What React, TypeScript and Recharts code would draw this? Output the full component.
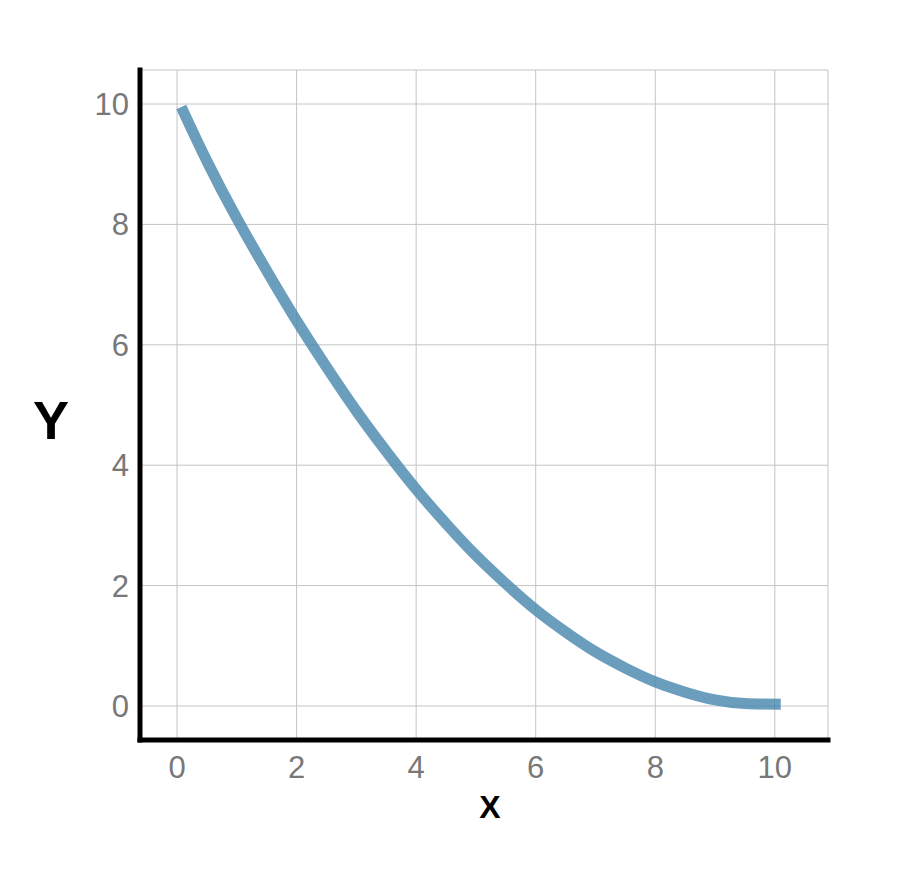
import { LineChart, Line, XAxis, YAxis, CartesianGrid, Label } from "recharts";

// curve
const xValues = [0.07, 0.5, 1, 1.5, 2, 2.5, 3, 3.5, 4, 4.5, 5, 5.5, 6, 6.5, 7, 7.5, 8, 8.5, 9, 9.5, 10.1];
const yValues = [9.95, 9.05, 8.1, 7.23, 6.4, 5.63, 4.9, 4.23, 3.6, 3.03, 2.5, 2.03, 1.6, 1.23, 0.9, 0.63, 0.4, 0.23, 0.1, 0.04, 0.03];
const xTicks = [0, 2, 4, 6, 8, 10];
const yTicks = [0, 2, 4, 6, 8, 10];

const data = xValues.map((x, i) => ({ x, y: yValues[i] }));

const FONT = "'Liberation Sans', Arial, Helvetica, sans-serif";
const tickStyle = { fontSize: 31, fill: "#787878", fontFamily: FONT };
const axisLineStyle = { stroke: "#000", strokeWidth: 5, strokeLinecap: "square" as const };

export default function App() {
  return (
    <div style={{ position: "absolute", left: 0, top: 0, background: "#fff" }}>
      <LineChart
        width={905}
        height={882}
        data={data}
        margin={{ top: 70, right: 77, left: 0, bottom: 42 }}
      >
        <CartesianGrid stroke="#c4c4c4" strokeWidth={1} />
        <XAxis
          type="number"
          dataKey="x"
          domain={[-0.62, 10.89]}
          ticks={xTicks}
          allowDataOverflow
          height={100}
          tickSize={0}
          tickMargin={16}
          tickLine={false}
          axisLine={axisLineStyle}
          tick={tickStyle}
        >
          <Label
            value="X"
            position="insideBottom"
            offset={22}
            dx={6}
            style={{ fontSize: 32, fontWeight: 700, fill: "#000", fontFamily: FONT }}
          />
        </XAxis>
        <YAxis
          type="number"
          domain={[-0.565, 10.565]}
          ticks={yTicks}
          allowDataOverflow
          width={140}
          tickSize={0}
          tickMargin={11}
          tickLine={false}
          axisLine={axisLineStyle}
          tick={tickStyle}
        >
          <Label
            value="Y"
            position="insideLeft"
            offset={33}
            dy={15}
            style={{ fontSize: 54, fontWeight: 700, fill: "#000", fontFamily: FONT }}
          />
        </YAxis>
        <Line
          type="natural"
          dataKey="y"
          stroke="#4d8ab0"
          strokeOpacity={0.83}
          strokeWidth={11}
          dot={false}
          activeDot={false}
          isAnimationActive={false}
        />
      </LineChart>
    </div>
  );
}
